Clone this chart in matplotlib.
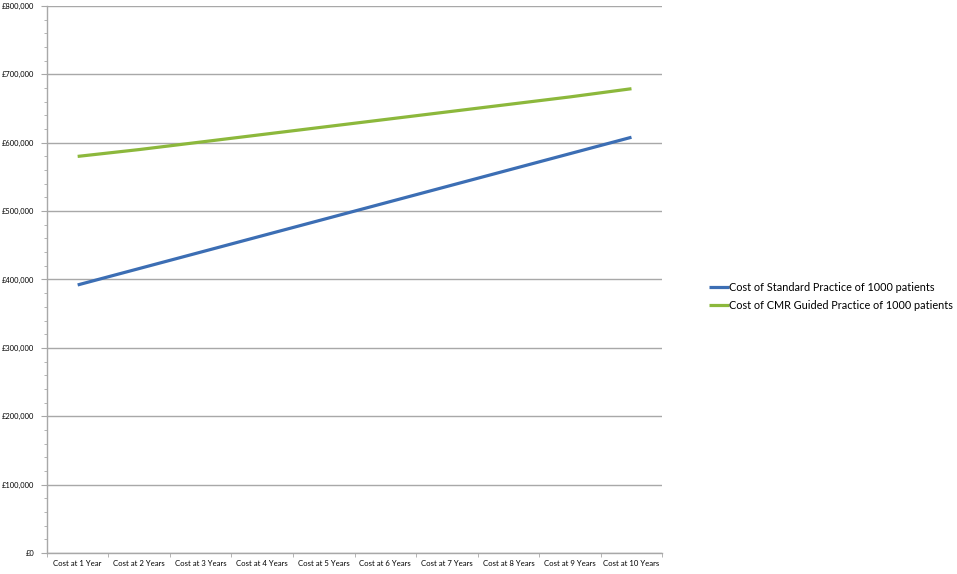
import numpy as np
import matplotlib
matplotlib.use('Agg')
import matplotlib.pyplot as plt
from matplotlib.ticker import MultipleLocator, FuncFormatter

categories = ['Cost at 1 Year', 'Cost at 2 Years', 'Cost at 3 Years', 'Cost at 4 Years',
              'Cost at 5 Years', 'Cost at 6 Years', 'Cost at 7 Years', 'Cost at 8 Years',
              'Cost at 9 Years', 'Cost at 10 Years']
standard_cost = [392000, 416000, 440000, 464000, 488000, 512000, 536000, 560000, 584000, 608000]
cmr_cost = [580000, 590000, 601000, 612000, 623000, 634000, 645000, 656000, 667000, 679000]
series_labels = ['Cost of Standard Practice of 1000 patients',
                 'Cost of CMR Guided Practice of 1000 patients']

plt.rcParams['font.family'] = ['Lato', 'DejaVu Sans']

fig = plt.figure(figsize=(9.57, 5.74), dpi=100)
ax = fig.add_axes([0.049, 0.0366, 0.643, 0.953])

x = np.arange(len(categories))
ax.plot(x, standard_cost, color='#3c6eb4', lw=2.3, label=series_labels[0], solid_capstyle='butt')
ax.plot(x, cmr_cost, color='#8cb83c', lw=2.3, label=series_labels[1], solid_capstyle='butt')

ax.set_xlim(-0.5, len(categories) - 0.5)
ax.set_ylim(0, 800000)
ax.yaxis.set_major_locator(MultipleLocator(100000))
ax.yaxis.set_minor_locator(MultipleLocator(20000))
ax.yaxis.set_major_formatter(FuncFormatter(lambda v, p: '£{:,.0f}'.format(v)))
ax.grid(axis='y', which='major', color='#a8a8a8', lw=1.0)
ax.set_axisbelow(True)

ax.set_xticks(x)
ax.set_xticklabels(categories, fontsize=5.6)
ax.set_xticks(np.arange(len(categories) + 1) - 0.5, minor=True)
ax.tick_params(axis='x', which='major', length=0, pad=5)
ax.tick_params(axis='x', which='minor', length=3, color='#a8a8a8', direction='out')
ax.tick_params(axis='y', which='major', labelsize=5.4, length=4, color='#a8a8a8', pad=5)
ax.tick_params(axis='y', which='minor', length=2.5, color='#a8a8a8')

for s in ['top', 'right']:
    ax.spines[s].set_visible(False)
for s in ['left', 'bottom']:
    ax.spines[s].set_color('#a8a8a8')
    ax.spines[s].set_linewidth(1.0)

fig.legend(loc='center left', bbox_to_anchor=(0.731, 0.483), frameon=False,
           fontsize=7.8, handlelength=1.8, handletextpad=0.0, labelspacing=0.65)

fig.savefig('out.png', dpi=100)
